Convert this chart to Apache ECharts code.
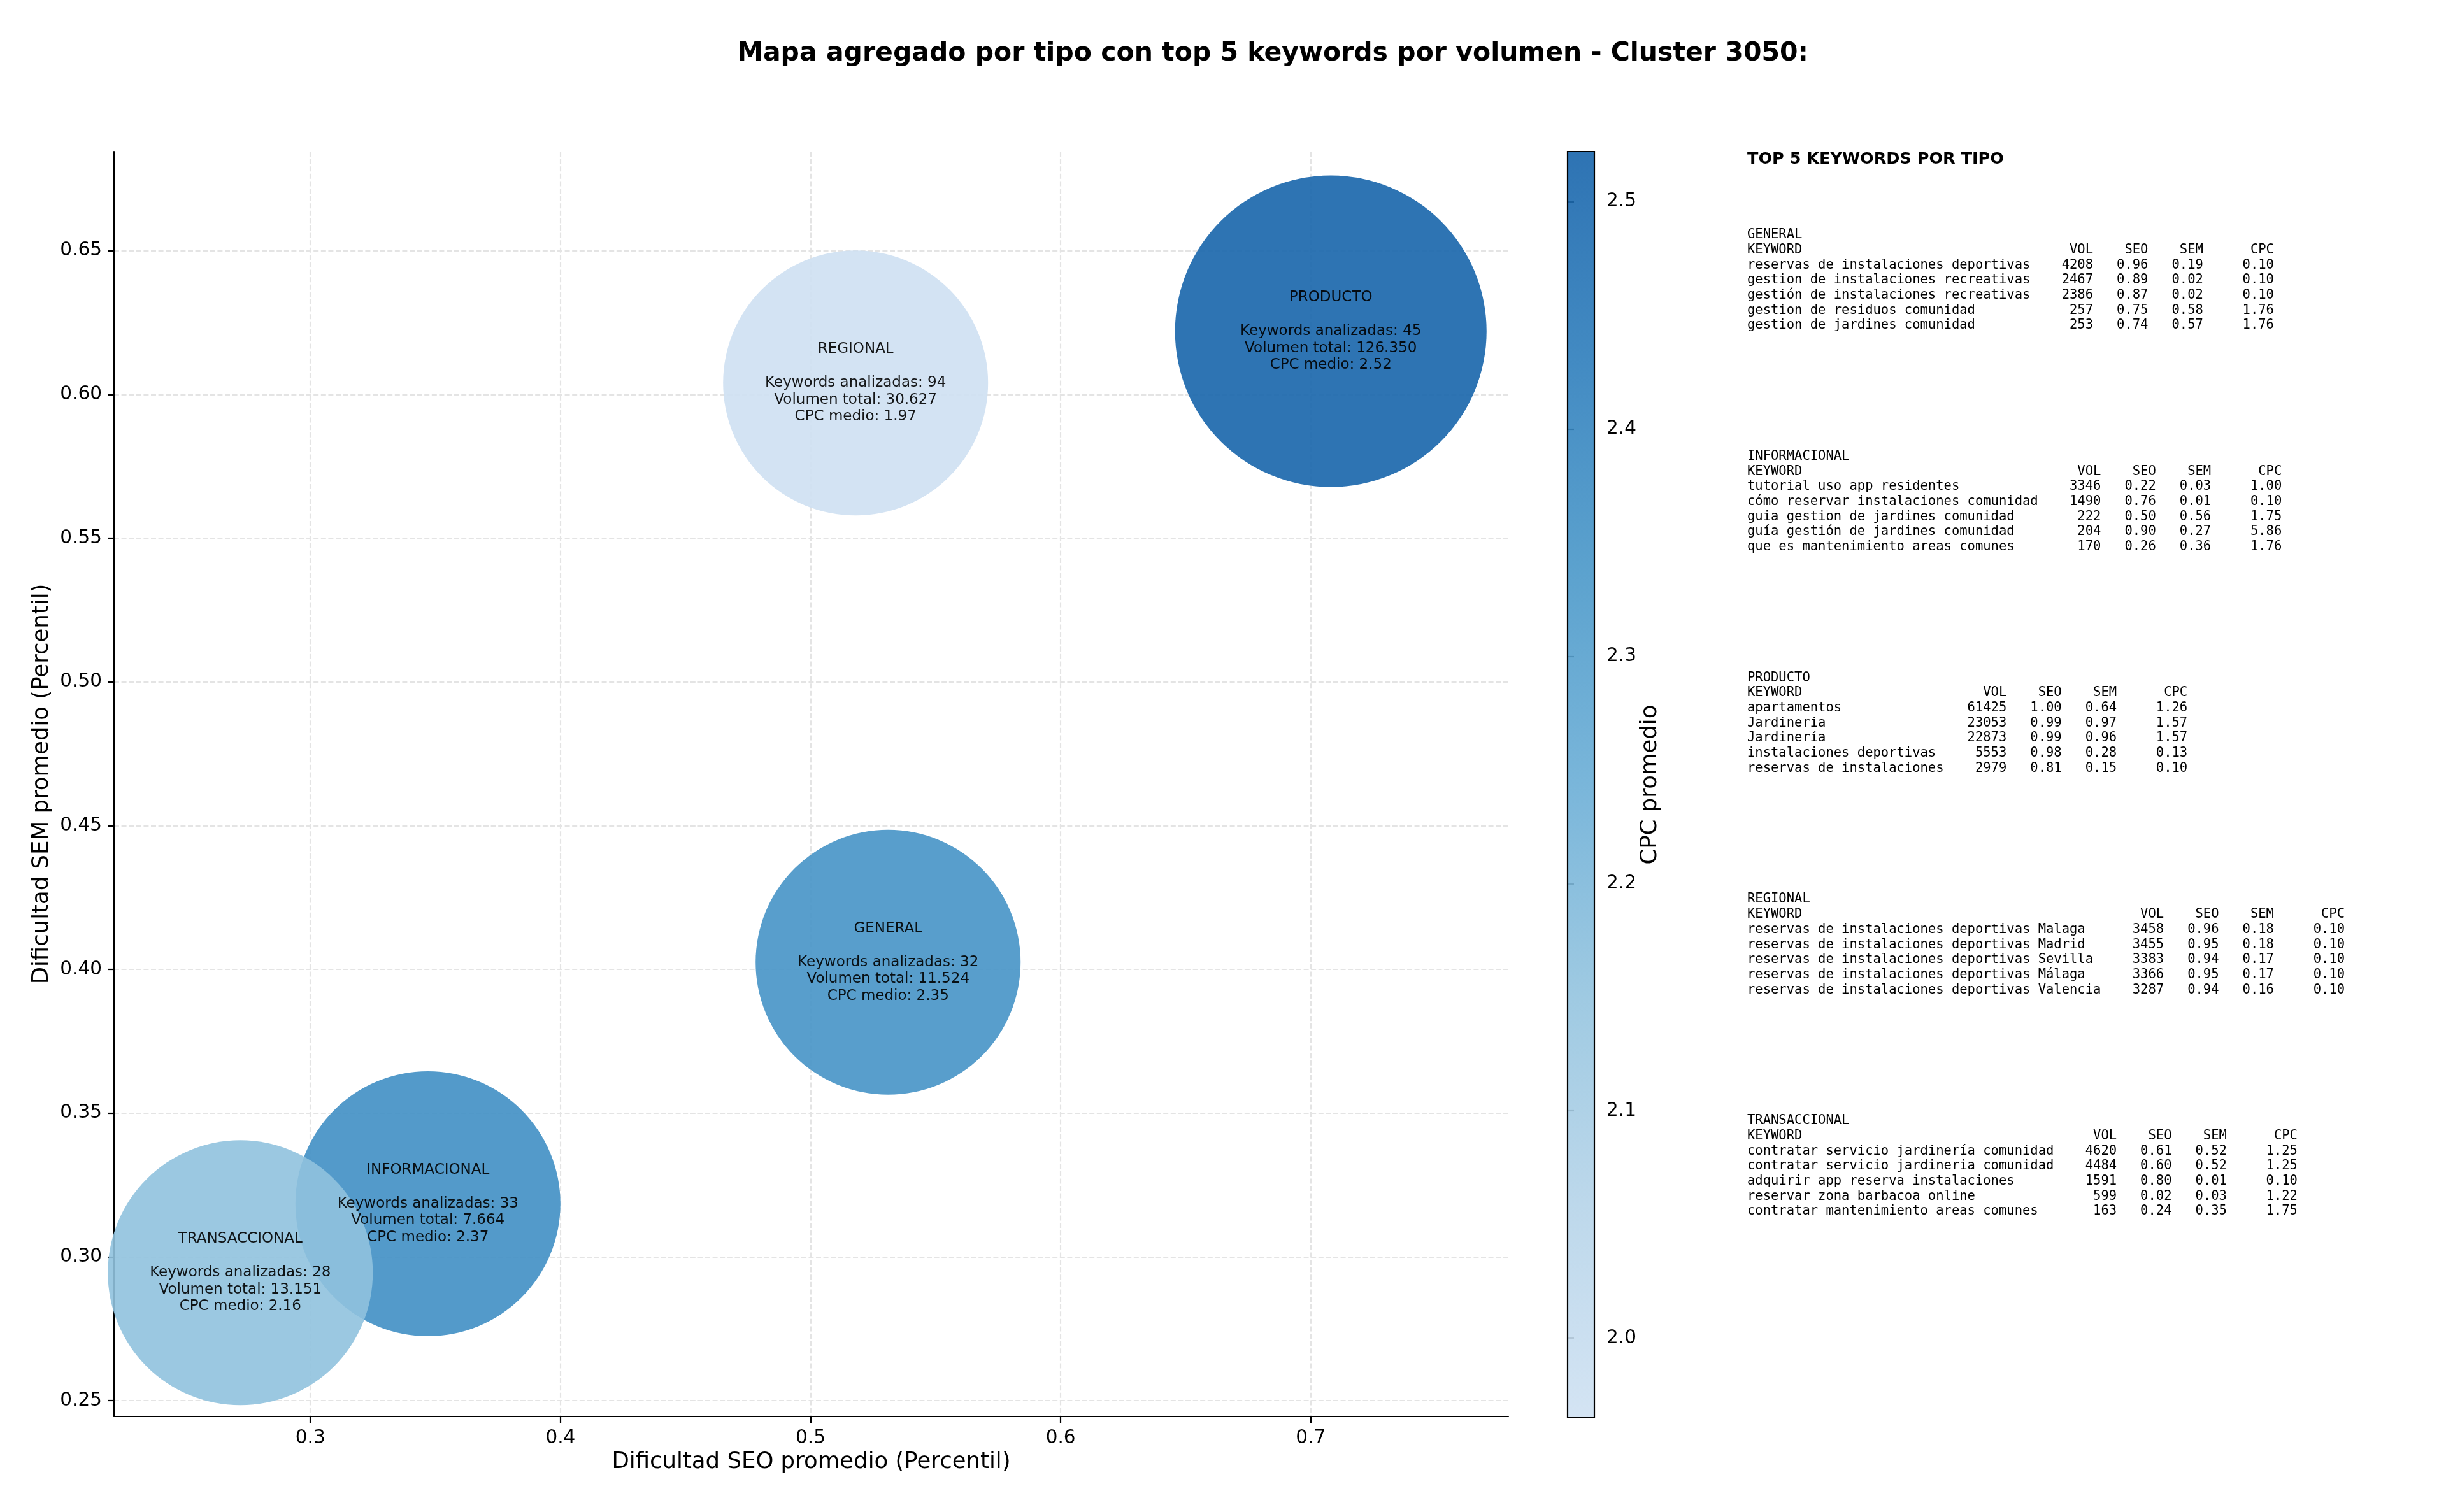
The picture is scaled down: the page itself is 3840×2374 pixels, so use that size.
<!DOCTYPE html>
<html>
<head>
<meta charset="utf-8">
<script src="https://cdn.jsdelivr.net/npm/echarts@6/dist/echarts.min.js"></script>
<style>
  html, body { margin: 0; padding: 0; background: #fff; }
  #main { width: 3840px; height: 2374px; }
</style>
</head>
<body>
<div id="main"></div>
<script>
// datos agregados por tipo
var tipos = ['GENERAL', 'INFORMACIONAL', 'PRODUCTO', 'REGIONAL', 'TRANSACCIONAL'];
var seoMedio = [0.531, 0.347, 0.708, 0.518, 0.272];
var semMedio = [0.4025, 0.3185, 0.622, 0.604, 0.2945];
var cpcMedio = [2.35, 2.37, 2.52, 1.97, 2.16];
var numKeywords = [32, 33, 45, 94, 28];
var volumenTotal = [11524, 7664, 126350, 30627, 13151];

// limites de la barra de color
var cpcLimites = [1.965, 2.522];

// ticks
var xTicks = [0.3, 0.4, 0.5, 0.6, 0.7];
var yTicks = [0.25, 0.30, 0.35, 0.40, 0.45, 0.50, 0.55, 0.60, 0.65];
var cbTicks = [2.0, 2.1, 2.2, 2.3, 2.4, 2.5];

// top 5 keywords por tipo: [keyword, vol, seo, sem, cpc]
var topGeneral = [
    ['reservas de instalaciones deportivas', 4208, 0.96, 0.19, 0.10],
    ['gestion de instalaciones recreativas', 2467, 0.89, 0.02, 0.10],
    ['gestión de instalaciones recreativas', 2386, 0.87, 0.02, 0.10],
    ['gestion de residuos comunidad', 257, 0.75, 0.58, 1.76],
    ['gestion de jardines comunidad', 253, 0.74, 0.57, 1.76]
];
var topInformacional = [
    ['tutorial uso app residentes', 3346, 0.22, 0.03, 1.00],
    ['cómo reservar instalaciones comunidad', 1490, 0.76, 0.01, 0.10],
    ['guia gestion de jardines comunidad', 222, 0.50, 0.56, 1.75],
    ['guía gestión de jardines comunidad', 204, 0.90, 0.27, 5.86],
    ['que es mantenimiento areas comunes', 170, 0.26, 0.36, 1.76]
];
var topProducto = [
    ['apartamentos', 61425, 1.00, 0.64, 1.26],
    ['Jardineria', 23053, 0.99, 0.97, 1.57],
    ['Jardinería', 22873, 0.99, 0.96, 1.57],
    ['instalaciones deportivas', 5553, 0.98, 0.28, 0.13],
    ['reservas de instalaciones', 2979, 0.81, 0.15, 0.10]
];
var topRegional = [
    ['reservas de instalaciones deportivas Malaga', 3458, 0.96, 0.18, 0.10],
    ['reservas de instalaciones deportivas Madrid', 3455, 0.95, 0.18, 0.10],
    ['reservas de instalaciones deportivas Sevilla', 3383, 0.94, 0.17, 0.10],
    ['reservas de instalaciones deportivas Málaga', 3366, 0.95, 0.17, 0.10],
    ['reservas de instalaciones deportivas Valencia', 3287, 0.94, 0.16, 0.10]
];
var topTransaccional = [
    ['contratar servicio jardinería comunidad', 4620, 0.61, 0.52, 1.25],
    ['contratar servicio jardineria comunidad', 4484, 0.60, 0.52, 1.25],
    ['adquirir app reserva instalaciones', 1591, 0.80, 0.01, 0.10],
    ['reservar zona barbacoa online', 599, 0.02, 0.03, 1.22],
    ['contratar mantenimiento areas comunes', 163, 0.24, 0.35, 1.75]
];
var bloques = [
    ['GENERAL', topGeneral],
    ['INFORMACIONAL', topInformacional],
    ['PRODUCTO', topProducto],
    ['REGIONAL', topRegional],
    ['TRANSACCIONAL', topTransaccional]
];

// colormap Blues (tramo 0.2 - 0.8)
var azules = ['#cfe1f2', '#b6d4e9', '#94c4df', '#6baed6', '#4a98c9', '#2e7ebc', '#1764ab'];

var FONT = '"DejaVu Sans", Verdana, sans-serif';
var MONO = '"DejaVu Sans Mono", monospace';

function fmtMiles(n) {
    return String(n).replace(/\B(?=(\d{3})+(?!\d))/g, '.');
}

function textoBloque(nombre, filas) {
    var w = 0;
    filas.forEach(function (f) { w = Math.max(w, f[0].length); });
    var lineas = [nombre,
        'KEYWORD'.padEnd(w) + 'VOL'.padStart(8) + 'SEO'.padStart(7) + 'SEM'.padStart(7) + 'CPC'.padStart(9)];
    filas.forEach(function (f) {
        lineas.push(f[0].padEnd(w) + String(f[1]).padStart(8) + f[2].toFixed(2).padStart(7) +
            f[3].toFixed(2).padStart(7) + f[4].toFixed(2).padStart(9));
    });
    return lineas.join('\n');
}

var datos = tipos.map(function (t, i) {
    return [seoMedio[i], semMedio[i], cpcMedio[i], volumenTotal[i], numKeywords[i], t];
});

var graficos = [{
    type: 'text', x: 2743, y: 250,
    style: { text: 'TOP 5 KEYWORDS POR TIPO', fontSize: 25.5, fontWeight: 'bold', fontFamily: FONT,
        fill: '#000', verticalAlign: 'middle' }
}];
bloques.forEach(function (b, i) {
    graficos.push({
        type: 'text', x: 2743, y: 357 + i * 347.75,
        style: { text: textoBloque(b[0], b[1]), fontSize: 20.5, fontFamily: MONO, lineHeight: 23.7,
            fill: '#000', verticalAlign: 'top' }
    });
});

var chart = echarts.init(document.getElementById('main'));

var option = {
    backgroundColor: '#fff',
    animation: false,
    title: {
        text: 'Mapa agregado por tipo con top 5 keywords por volumen - Cluster 3050:',
        left: 1993, top: 59, textAlign: 'center',
        textStyle: { fontSize: 41, fontWeight: 'bold', fontFamily: FONT, color: '#000' }
    },
    grid: [
        { left: 179, top: 238, width: 2189, height: 1986 },
        { left: 2461, top: 238, width: 42, height: 1988 }
    ],
    xAxis: [{
        gridIndex: 0, type: 'value', min: 0.2215, max: 0.779,
        name: 'Dificultad SEO promedio (Percentil)', nameLocation: 'middle', nameGap: 53,
        nameTextStyle: { fontSize: 35.5, fontFamily: FONT, color: '#000' },
        axisLine: { onZero: false, lineStyle: { color: '#000', width: 2.2 } },
        axisTick: { customValues: xTicks, length: 10, lineStyle: { color: '#000', width: 2.2 } },
        axisLabel: { customValues: xTicks, fontSize: 29.5, fontFamily: FONT, color: '#000', margin: 19,
            formatter: function (v) { return v.toFixed(1); } },
        splitLine: { show: true, lineStyle: { color: '#e4e4e4', width: 2.2, type: [8, 3.6] } }
    }, {
        gridIndex: 1, type: 'value', min: 0, max: 1, show: false
    }],
    yAxis: [{
        gridIndex: 0, type: 'value', min: 0.2445, max: 0.6845,
        name: 'Dificultad SEM promedio (Percentil)', nameLocation: 'middle', nameGap: 74,
        nameTextStyle: { fontSize: 35.5, fontFamily: FONT, color: '#000' },
        axisLine: { show: true, onZero: false, lineStyle: { color: '#000', width: 2.2 } },
        axisTick: { show: true, customValues: yTicks, length: 10, lineStyle: { color: '#000', width: 2.2 } },
        axisLabel: { customValues: yTicks, fontSize: 29.5, fontFamily: FONT, color: '#000', margin: 19,
            formatter: function (v) { return v.toFixed(2); } },
        splitLine: { show: true, lineStyle: { color: '#e4e4e4', width: 2.2, type: [8, 3.6] } }
    }, {
        gridIndex: 1, type: 'value', position: 'right', min: cpcLimites[0], max: cpcLimites[1],
        name: 'CPC promedio', nameLocation: 'middle', nameGap: 68, nameRotate: 90,
        nameTextStyle: { fontSize: 35.5, fontFamily: FONT, color: '#000' },
        axisLine: { show: false },
        axisTick: { show: true, customValues: cbTicks, length: 10, lineStyle: { color: '#000', width: 2.2 } },
        axisLabel: { customValues: cbTicks, fontSize: 29.5, fontFamily: FONT, color: '#000', margin: 19,
            formatter: function (v) { return v.toFixed(1); } },
        splitLine: { show: false }
    }],
    visualMap: {
        type: 'continuous', show: false, seriesIndex: 0, dimension: 2,
        min: cpcLimites[0], max: cpcLimites[1],
        inRange: { color: azules }
    },
    graphic: graficos,
    series: [{
        type: 'scatter', xAxisIndex: 0, yAxisIndex: 0,
        data: datos,
        symbolSize: function (v) { return Math.max(416, 1.376 * Math.sqrt(v[3])); },
        itemStyle: { opacity: 0.9 },
        label: {
            show: true, position: 'inside', color: '#000', fontSize: 23, fontFamily: FONT, lineHeight: 26.5,
            formatter: function (p) {
                var v = p.data;
                return v[5] + '\n\nKeywords analizadas: ' + v[4] + '\nVolumen total: ' + fmtMiles(v[3]) +
                    '\nCPC medio: ' + v[2].toFixed(2);
            }
        },
        emphasis: { disabled: true }
    }, {
        // barra de color
        type: 'custom', xAxisIndex: 1, yAxisIndex: 1, silent: true,
        data: [[0, cpcLimites[0], 1, cpcLimites[1]]],
        renderItem: function (params, api) {
            var p0 = api.coord([api.value(0), api.value(1)]);
            var p1 = api.coord([api.value(2), api.value(3)]);
            var stops = azules.map(function (c, i) {
                return { offset: i / (azules.length - 1), color: echarts.color.modifyAlpha(c, 0.9) };
            });
            return {
                type: 'rect',
                shape: { x: p0[0], y: p1[1], width: p1[0] - p0[0], height: p0[1] - p1[1] },
                style: { fill: new echarts.graphic.LinearGradient(0, 1, 0, 0, stops), stroke: '#000', lineWidth: 2.2 }
            };
        }
    }]
};

chart.setOption(option);
</script>
</body>
</html>
